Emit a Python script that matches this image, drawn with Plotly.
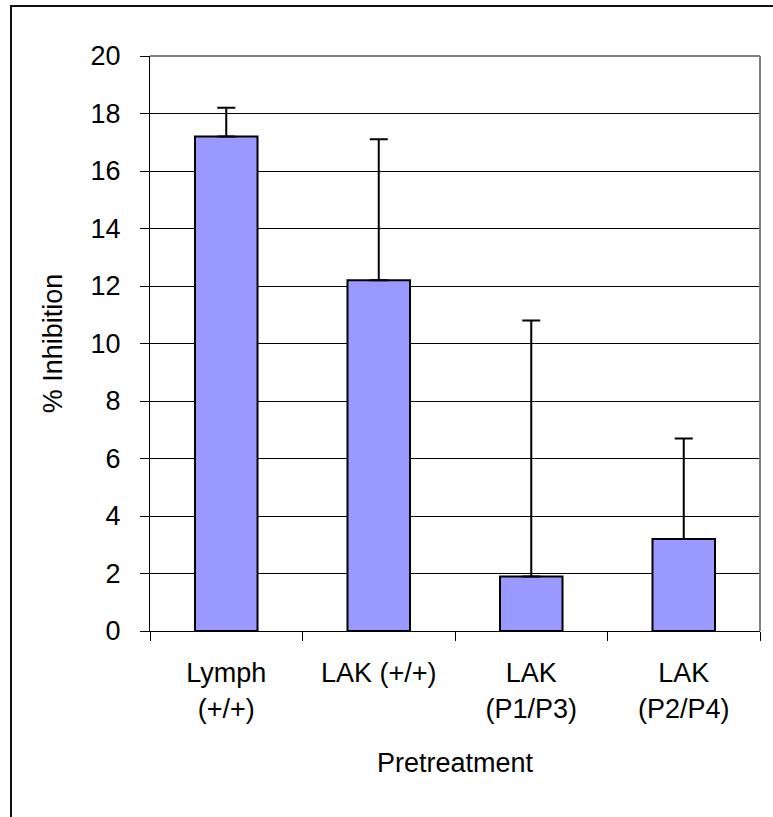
import plotly.graph_objects as go

categories = ["Lymph<br>(+/+)", "LAK (+/+)", "LAK<br>(P1/P3)", "LAK<br>(P2/P4)"]
values = [17.2, 12.2, 1.9, 3.2]
errors_plus = [1.0, 4.9, 8.9, 3.5]
y_ticks = [0, 2, 4, 6, 8, 10, 12, 14, 16, 18, 20]

W, H = 773, 817
L, R, T, B = 150, 13, 56, 186
pw = W - L - R
ph = H - T - B

FONT = "Liberation Sans, Arial, sans-serif"
FS = 27

fig = go.Figure()
fig.add_trace(go.Bar(
    x=categories, y=values,
    marker=dict(color="#9999FF", line=dict(color="black", width=2)),
    error_y=dict(type="data", symmetric=False, array=errors_plus,
                 arrayminus=[0] * len(values), color="black", thickness=2, width=9),
))

def px_x(x):
    return (x - L) / pw

def px_y(y):
    return (H - B - y) / ph

shapes = [
    dict(type="rect", xref="paper", yref="paper", x0=px_x(11), x1=px_x(800),
         y0=px_y(840), y1=px_y(6), line=dict(color="#111", width=2), layer="below"),
    dict(type="line", xref="paper", yref="paper", x0=0, x1=1, y0=1, y1=1,
         line=dict(color="#808080", width=2)),
    dict(type="line", xref="paper", yref="paper", x0=1, x1=1, y0=0, y1=1,
         line=dict(color="#808080", width=2)),
]

fig.update_layout(
    width=W, height=H,
    margin=dict(l=L, r=R, t=T, b=B, pad=0),
    paper_bgcolor="white", plot_bgcolor="white",
    bargap=0.59, showlegend=False,
    font=dict(family=FONT, size=FS, color="black"),
    shapes=shapes,
)
fig.update_xaxes(
    type="category", showline=True, linecolor="black", linewidth=1,
    ticks="outside", tickson="boundaries", ticklen=9, tickcolor="black",
    showgrid=False, ticklabelstandoff=18,
    title=dict(text="Pretreatment", standoff=30, font=dict(size=FS)),
    tickfont=dict(size=FS),
)
fig.update_yaxes(
    range=[0, 20], tickvals=y_ticks, showline=True, linecolor="black", linewidth=1,
    ticks="outside", ticklen=9, tickcolor="black",
    showgrid=True, gridcolor="black", gridwidth=1, zeroline=False,
    ticklabelstandoff=14,
    title=dict(text="% Inhibition", standoff=20, font=dict(size=FS)),
    tickfont=dict(size=FS),
)

fig.write_html("out.html")
